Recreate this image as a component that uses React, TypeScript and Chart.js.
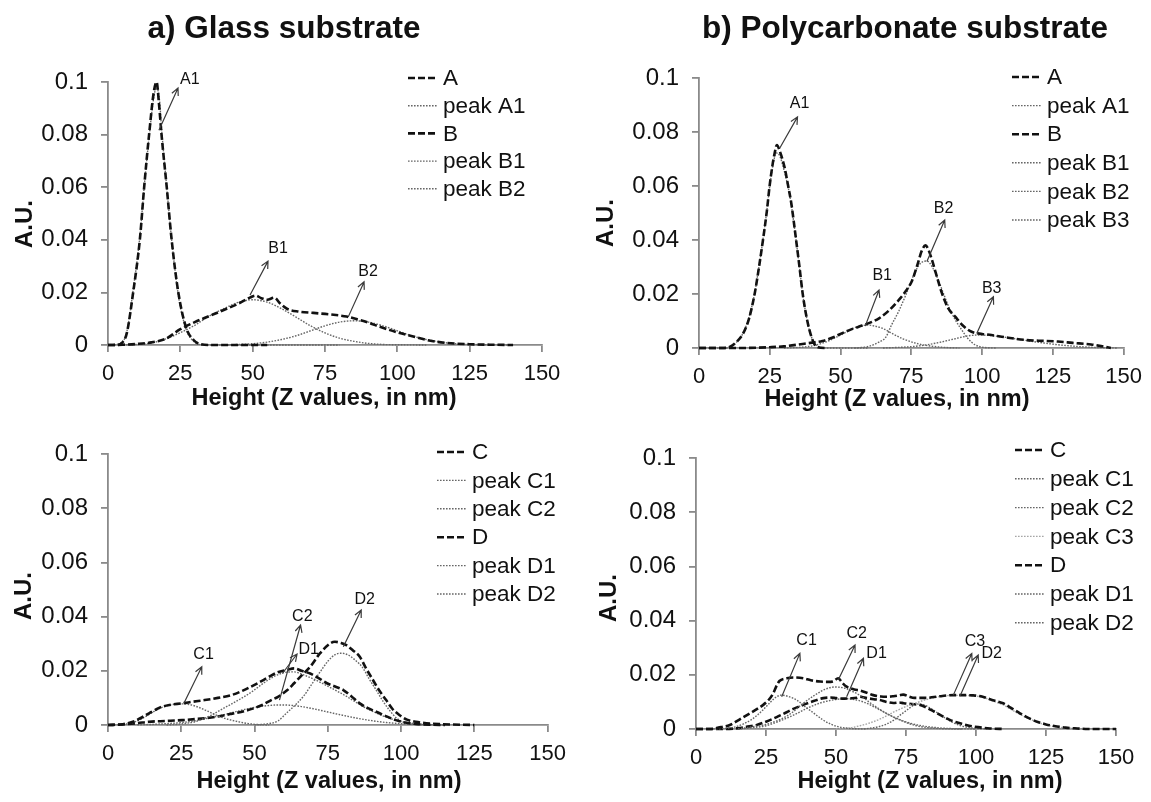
import React, { useEffect, useRef } from "react";
import { Chart, registerables } from "chart.js";

Chart.register(...registerables);

const FONT_FAMILY = "'Liberation Sans', Arial, Helvetica, sans-serif";
Chart.defaults.font.family = FONT_FAMILY;
Chart.defaults.color = "#111";

type Pt = [number, number];

// Tick labels shared by all four panels
const xTickLabels = ["0", "25", "50", "75", "100", "125", "150"];
const yTickLabels = ["0", "0.02", "0.04", "0.06", "0.08", "0.1"];

// ---------- a) Glass substrate, samples A and B ----------
const glassA: Pt[] = [
  [0, 0], [3, 0], [5, 0.001], [6.5, 0.0045], [8.7, 0.02], [11, 0.04], [12.5, 0.06], [14.2, 0.08],
  [15.8, 0.096], [16.8, 0.1], [17.6, 0.092], [18.5, 0.08], [20.3, 0.06], [22, 0.04], [24.3, 0.02],
  [27, 0.0066], [29.5, 0.002], [32, 0.0003], [36, 0], [45, 0], [55, 0],
];
const glassA1: Pt[] = [
  [0, 0], [4, 0.0005], [6.5, 0.005], [8.7, 0.021], [11, 0.041], [12.5, 0.06], [14.2, 0.079],
  [15.8, 0.094], [16.8, 0.098], [17.8, 0.093], [18.6, 0.081], [20.3, 0.06], [22, 0.04], [24.3, 0.019],
  [27, 0.006], [29.5, 0.0015], [33, 0], [45, 0], [60, 0], [80, 0],
];
const glassB: Pt[] = [
  [0, 0], [5, 0.0001], [10, 0.0004], [15, 0.001], [20, 0.0024], [25, 0.006], [30, 0.0087], [35, 0.011],
  [40, 0.0133], [45, 0.0157], [49, 0.018], [51, 0.0188], [53, 0.0178], [55, 0.0172], [57.5, 0.018],
  [59.5, 0.0158], [62, 0.0137], [66, 0.0127], [71, 0.0122], [77, 0.0116], [82.5, 0.0108], [87, 0.0095],
  [90, 0.0085], [94, 0.0069], [100, 0.0048], [105.5, 0.0032], [111, 0.0017], [117, 0.0008],
  [125, 0.0003], [133, 0.0001], [140, 0],
];
const glassB1: Pt[] = [
  [0, 0], [10, 0.0002], [15, 0.0008], [20, 0.0023], [25, 0.0047], [30, 0.0075], [35, 0.011],
  [40, 0.0138], [45, 0.0162], [50, 0.0172], [55, 0.0163], [60, 0.0138], [65, 0.0106], [70, 0.0073],
  [75, 0.0046], [80, 0.0026], [85, 0.0014], [90, 0.0006], [95, 0.0002], [100, 0.0001], [110, 0],
];
const glassB2: Pt[] = [
  [40, 0], [50, 0.0005], [55, 0.0011], [60, 0.0021], [65, 0.0035], [70, 0.0054], [75, 0.0073],
  [80, 0.0087], [85, 0.0092], [90, 0.0087], [95, 0.0073], [100, 0.0054], [105, 0.0035], [110, 0.0021],
  [115, 0.0011], [120, 0.0005], [130, 0.0001], [140, 0],
];

// ---------- b) Polycarbonate substrate, samples A and B ----------
const polyA: Pt[] = [
  [0, 0], [8, 0], [11, 0.0005], [13.5, 0.0025], [15.6, 0.0054], [17.7, 0.011], [19.7, 0.0203],
  [21.2, 0.03], [22.6, 0.04], [24, 0.051], [24.9, 0.0597], [26, 0.068], [26.7, 0.072], [27.5, 0.0752],
  [28.5, 0.073], [30.2, 0.067], [31.5, 0.06], [32.6, 0.0536], [34.3, 0.04], [35.5, 0.03], [36.6, 0.0203],
  [37.8, 0.0125], [39, 0.0067], [40.5, 0.002], [42, 0.0003], [45, 0],
];
const polyA1: Pt[] = [
  [0, 0], [10, 0], [12, 0.001], [14, 0.003], [15.6, 0.0056], [17.7, 0.0115], [19.7, 0.0205],
  [21.2, 0.0302], [22.6, 0.0402], [24, 0.0512], [25, 0.06], [26, 0.067], [27.3, 0.0722], [28.5, 0.0712],
  [30, 0.066], [31.5, 0.0595], [32.6, 0.053], [34.3, 0.0398], [35.5, 0.0298], [36.6, 0.0202],
  [37.8, 0.0124], [39, 0.0066], [40.5, 0.0022], [42.5, 0.0004], [46, 0], [60, 0],
];
const polyB: Pt[] = [
  [0, 0], [15, 0], [25, 0.0003], [30, 0.0006], [36.6, 0.0015], [40, 0.002], [43.6, 0.0026], [47, 0.0038],
  [50.6, 0.0055], [54, 0.007], [57.6, 0.0083], [60, 0.0092], [63.6, 0.011], [67, 0.0138], [70.6, 0.0178],
  [73, 0.021], [75.3, 0.025], [77.2, 0.031], [78.8, 0.0363], [80, 0.038], [81, 0.0365], [82.3, 0.0326],
  [84, 0.0265], [85.8, 0.0203], [88, 0.0148], [90.5, 0.0116], [93, 0.0085], [96.3, 0.006], [100, 0.0052],
  [103.3, 0.0048], [108, 0.004], [115, 0.003], [120, 0.0027], [126.8, 0.0024], [132, 0.0019],
  [138.5, 0.0013], [142, 0.0007], [145.5, 0],
];
const polyB1: Pt[] = [
  [30, 0], [35, 0.0002], [40, 0.0008], [45, 0.0023], [50, 0.0048], [55, 0.0075], [59.5, 0.0085],
  [61.2, 0.0083], [65, 0.0072], [68, 0.0055], [72, 0.0034], [77.6, 0.0015], [82, 0.0007], [87, 0.0002],
  [92, 0],
];
const polyB2: Pt[] = [
  [55, 0], [60, 0.0006], [63.6, 0.0022], [66, 0.004], [68, 0.0085], [70.5, 0.0135], [73, 0.0195],
  [76.5, 0.0285], [78.5, 0.0316], [80.5, 0.0322], [82.5, 0.0298], [84.6, 0.025], [86.5, 0.0198],
  [88.2, 0.0153], [90.5, 0.0105], [92.8, 0.0067], [95, 0.0035], [97.5, 0.0012], [100, 0.0003], [105, 0],
];
const polyB3: Pt[] = [
  [65, 0], [75, 0.0005], [80, 0.0011], [85, 0.0021], [90, 0.0033], [95, 0.0045], [98.7, 0.0048],
  [103, 0.0046], [108, 0.004], [115, 0.0029], [120, 0.0021], [126, 0.0013], [132, 0.0007], [140, 0.0002],
  [148, 0],
];

// ---------- glass substrate, samples C and D ----------
const glassC: Pt[] = [
  [0, 0], [5, 0.0003], [8.5, 0.0012], [11, 0.0025], [14, 0.0043], [16.5, 0.0058], [18.6, 0.0068],
  [21, 0.0074], [25.3, 0.008], [29, 0.0086], [33, 0.0092], [37.5, 0.01], [42, 0.011], [46, 0.0127],
  [51, 0.0154], [54.5, 0.0175], [57.8, 0.0194], [61, 0.0203], [63.5, 0.0209], [66, 0.02], [69, 0.019],
  [72, 0.0172], [74.7, 0.0154], [77.5, 0.0142], [80.3, 0.0129], [83, 0.0106], [85.9, 0.008],
  [88.5, 0.0063], [91.5, 0.0049], [95, 0.0032], [98.2, 0.0018], [101.5, 0.0009], [105, 0.0004],
  [110, 0.0001], [115, 0],
];
const glassC1: Pt[] = [
  [0, 0], [5, 0.0002], [9, 0.0011], [12, 0.0026], [14.5, 0.0042], [17, 0.0058], [20, 0.0071],
  [23, 0.0077], [25.5, 0.0078], [28, 0.0075], [31, 0.0065], [34, 0.0051], [36.6, 0.0038], [40, 0.0024],
  [44.5, 0.0012], [48, 0.0005], [52, 0.0001], [55, 0],
];
const glassC2: Pt[] = [
  [20, 0], [25, 0.0004], [30, 0.0013], [35, 0.0035], [40, 0.0065], [45, 0.0095], [49, 0.0122],
  [53, 0.0154], [57, 0.0181], [61, 0.0195], [63.5, 0.0196], [66, 0.0188], [69, 0.0175], [72, 0.016],
  [75, 0.0143], [78, 0.0126], [81, 0.0108], [84, 0.0088], [87, 0.0068], [90, 0.0052], [93, 0.0037],
  [96, 0.0025], [100, 0.0013], [105, 0.0005], [110, 0.0001], [115, 0],
];
const glassD: Pt[] = [
  [0, 0], [5, 0.0002], [10, 0.0007], [14, 0.0012], [20, 0.0015], [25.3, 0.0018], [30, 0.0022],
  [36.6, 0.003], [42, 0.0041], [47.8, 0.0055], [52, 0.0071], [55.7, 0.0092], [58, 0.0104],
  [61.2, 0.0129], [63.5, 0.0154], [66, 0.0182], [69, 0.0215], [72.3, 0.0264], [75.8, 0.0301],
  [77.4, 0.0307], [79.5, 0.0303], [81.3, 0.0295], [83.5, 0.0276], [85.9, 0.0252], [88, 0.021],
  [90.4, 0.0166], [92.5, 0.0128], [94.9, 0.0092], [97, 0.006], [99.4, 0.0037], [102, 0.002],
  [105, 0.0012], [110, 0.0005], [114, 0.0003], [120, 0.0001], [125, 0],
];
const glassD1: Pt[] = [
  [10, 0.0001], [15, 0.0002], [20, 0.0005], [25, 0.0009], [30, 0.0016], [35, 0.0027], [40, 0.0039],
  [45, 0.0053], [50, 0.0065], [55, 0.0072], [58, 0.0074], [62, 0.0073], [66, 0.0068], [70, 0.006],
  [75, 0.0048], [80, 0.0036], [85, 0.0025], [90, 0.0016], [95, 0.0009], [100, 0.0005], [105, 0.0002],
  [110, 0.0001], [115, 0],
];
const glassD2: Pt[] = [
  [50, 0], [54, 0.0004], [58, 0.0015], [61, 0.0045], [64.5, 0.008], [67, 0.011], [69, 0.0142],
  [72, 0.019], [75, 0.0235], [77.5, 0.026], [79.7, 0.0265], [82, 0.0258], [84.5, 0.0238], [87, 0.021],
  [89, 0.0172], [91.5, 0.0129], [94, 0.0085], [96, 0.0055], [98.5, 0.0025], [100.5, 0.0012],
  [104, 0.0003], [110, 0],
];

// ---------- polycarbonate substrate, samples C and D ----------
const polyC: Pt[] = [
  [0, 0], [5, 0], [8, 0.0005], [12.1, 0.0015], [15.5, 0.0035], [19.3, 0.0058], [22, 0.0075],
  [24, 0.0089], [26, 0.0108], [27.6, 0.0132], [28.8, 0.016], [29.8, 0.0177], [32.4, 0.0187],
  [35, 0.019], [38.3, 0.0187], [41, 0.018], [44.3, 0.0175], [47, 0.0174], [49, 0.0176], [50.8, 0.0187],
  [52.3, 0.017], [53.8, 0.0156], [56.5, 0.0146], [58.6, 0.0142], [61, 0.0134], [63.3, 0.0125],
  [66, 0.012], [68.1, 0.0119], [70.5, 0.0121], [72.5, 0.0124], [74, 0.0127], [76, 0.012], [78, 0.0115],
  [80, 0.0115], [82.4, 0.0115], [85, 0.0118], [88, 0.0122], [91.9, 0.0125], [95, 0.0125], [99, 0.0124],
  [102.4, 0.0119], [105, 0.011], [107.5, 0.0102], [109.7, 0.0095], [112.5, 0.0078], [115.7, 0.0058],
  [118.5, 0.0042], [121.8, 0.0027], [125, 0.0017], [127.9, 0.0011], [132, 0.0005], [136.2, 0.0002],
  [140, 0], [150, 0],
];
const polyC1: Pt[] = [
  [5, 0], [10, 0.0002], [14, 0.0008], [17, 0.0019], [20, 0.0036], [22, 0.0052], [24, 0.0071],
  [26.4, 0.0097], [28.5, 0.0117], [30.6, 0.0125], [33, 0.012], [36.4, 0.0104], [39, 0.0082],
  [42.4, 0.0056], [45, 0.0036], [48.3, 0.0017], [51, 0.0008], [55, 0.0002], [60, 0],
];
const polyC2: Pt[] = [
  [15, 0], [20, 0.0008], [25, 0.0017], [30, 0.0035], [34, 0.0058], [38.3, 0.0095], [42, 0.0122],
  [46, 0.0146], [49.5, 0.0155], [53, 0.0151], [56, 0.0138], [58.6, 0.0124], [62, 0.0098], [65.7, 0.0072],
  [69, 0.0052], [72.9, 0.0033], [77.6, 0.0015], [82, 0.0006], [88, 0.0001], [95, 0],
];
const polyC3: Pt[] = [
  [50, 0], [55, 0.0004], [58.6, 0.0012], [62, 0.0022], [66, 0.0038], [70.5, 0.0062], [75, 0.0083],
  [78.8, 0.0097], [82.4, 0.0109], [86, 0.0118], [91.9, 0.0124], [95, 0.0124], [98, 0.0123],
  [102.4, 0.0117], [105, 0.0108], [107.5, 0.0098], [110, 0.0088], [112, 0.0075], [115, 0.0058],
  [118, 0.0042], [120.5, 0.0031], [124, 0.0018], [127, 0.0011], [130, 0.0006], [135, 0.0002], [140, 0],
];
const polyD: Pt[] = [
  [0, 0], [10, 0], [15, 0.0003], [18, 0.0008], [21.7, 0.0015], [25, 0.0027], [28.8, 0.0044], [32, 0.006],
  [35, 0.0075], [38.3, 0.0089], [42, 0.0103], [45.5, 0.0114], [48, 0.0116], [50.2, 0.0114], [53, 0.0112],
  [55, 0.0113], [57.4, 0.0115], [58.6, 0.0119], [61, 0.0114], [63.5, 0.011], [65.7, 0.0107], [68, 0.01],
  [70.5, 0.0096], [72.5, 0.0098], [74.2, 0.0095], [77, 0.0092], [80, 0.0089], [82.5, 0.0078],
  [85, 0.0064], [88.3, 0.0046], [91, 0.0032], [94.3, 0.0021], [97.5, 0.0012], [101.4, 0.0006],
  [105, 0.0002], [110, 0],
];
const polyD1: Pt[] = [
  [15, 0], [20, 0.0005], [25, 0.0012], [30, 0.003], [35, 0.0052], [40, 0.0078], [45, 0.0098],
  [50, 0.0109], [53, 0.0112], [56, 0.011], [60, 0.0099], [65, 0.0074], [70, 0.0047], [75, 0.0026],
  [80, 0.0013], [85, 0.0006], [90, 0.0002], [95, 0.0001], [100, 0],
];
const polyD2: Pt[] = [
  [60, 0], [65, 0.0008], [68, 0.0018], [70.5, 0.0032], [73, 0.0052], [75.5, 0.0071], [78.8, 0.0092],
  [81, 0.009], [83, 0.0081], [85, 0.0068], [88.3, 0.0045], [91, 0.0028], [94, 0.0014], [97, 0.0006],
  [100, 0.0002], [104, 0],
];

// ---------- drawing styles ----------
type Kind = "total" | "peak" | "peakLight";
const LINE_STYLES: Record<Kind, { color: string; width: number; dash: number[] }> = {
  total: { color: "#111111", width: 2.6, dash: [7, 3] },
  peak: { color: "#666666", width: 1.4, dash: [1.6, 1.4] },
  peakLight: { color: "#a6a6a6", width: 1.4, dash: [1.6, 1.4] },
};
const AXIS_COLOR = "#8a8a8a";

interface Series { label: string; points: Pt[]; kind: Kind }
interface Note { text: string; from: Pt; to: Pt; at: Pt }
interface Panel {
  box: { left: number; top: number; width: number; height: number };
  area: { left: number; top: number; right: number; bottom: number };
  title?: { text: string; x: number; y: number };
  yTitle: { x: number; y: number };
  xTitle: { x: number; y: number };
  legend: { lineX: number; lineW: number; textX: number; firstY: number; rowH: number };
  series: Series[];
  notes: Note[];
}

const PANELS: Panel[] = [
  {
    box: { left: 0, top: 0, width: 575, height: 425 },
    area: { left: 108, top: 82, right: 542, bottom: 345 },
    title: { text: "a) Glass substrate", x: 284, y: 29 },
    yTitle: { x: 25, y: 224 },
    xTitle: { x: 324, y: 399 },
    legend: { lineX: 408, lineW: 29, textX: 443, firstY: 78, rowH: 27.7 },
    series: [
      { label: "A", points: glassA, kind: "total" },
      { label: "peak A1", points: glassA1, kind: "peak" },
      { label: "B", points: glassB, kind: "total" },
      { label: "peak B1", points: glassB1, kind: "peak" },
      { label: "peak B2", points: glassB2, kind: "peak" },
    ],
    notes: [
      { text: "A1", from: [17.6, 0.0817], to: [24.2, 0.0977], at: [28.3, 0.1008] },
      { text: "B1", from: [49.1, 0.019], to: [55.3, 0.0319], at: [58.8, 0.0365] },
      { text: "B2", from: [83, 0.0106], to: [88.5, 0.024], at: [89.9, 0.0278] },
    ],
  },
  {
    box: { left: 580, top: 0, width: 571, height: 425 },
    area: { left: 119, top: 78, right: 546, bottom: 348 },
    title: { text: "b) Polycarbonate substrate", x: 325, y: 29 },
    yTitle: { x: 26, y: 223 },
    xTitle: { x: 317, y: 400 },
    legend: { lineX: 432, lineW: 30, textX: 467, firstY: 77, rowH: 28.6 },
    series: [
      { label: "A", points: polyA, kind: "total" },
      { label: "peak A1", points: polyA1, kind: "peak" },
      { label: "B", points: polyB, kind: "total" },
      { label: "peak B1", points: polyB1, kind: "peak" },
      { label: "peak B2", points: polyB2, kind: "peak" },
      { label: "peak B3", points: polyB3, kind: "peak" },
    ],
    notes: [
      { text: "A1", from: [28.5, 0.074], to: [34.8, 0.0856], at: [35.5, 0.0907] },
      { text: "B1", from: [58.7, 0.0081], to: [63.6, 0.0215], at: [64.7, 0.0267] },
      { text: "B2", from: [80.5, 0.032], to: [86.8, 0.0474], at: [86.4, 0.0517] },
      { text: "B3", from: [98.1, 0.0054], to: [104, 0.019], at: [103.4, 0.0221] },
    ],
  },
  {
    box: { left: 0, top: 425, width: 575, height: 377 },
    area: { left: 108, top: 29, right: 554, bottom: 300 },
    yTitle: { x: 24, y: 171 },
    xTitle: { x: 329, y: 357 },
    legend: { lineX: 437, lineW: 30, textX: 472, firstY: 27, rowH: 28.4 },
    series: [
      { label: "C", points: glassC, kind: "total" },
      { label: "peak C1", points: glassC1, kind: "peak" },
      { label: "peak C2", points: glassC2, kind: "peak" },
      { label: "D", points: glassD, kind: "total" },
      { label: "peak D1", points: glassD1, kind: "peak" },
      { label: "peak D2", points: glassD2, kind: "peak" },
    ],
    notes: [
      { text: "C1", from: [25.9, 0.008], to: [32, 0.0215], at: [32.6, 0.0258] },
      { text: "C2", from: [58.5, 0.0092], to: [65.7, 0.0369], at: [66.3, 0.04] },
      { text: "D1", from: [59.5, 0.019], to: [64.5, 0.0262], at: [68.5, 0.0279] },
      { text: "D2", from: [80.3, 0.0289], to: [86.4, 0.0424], at: [87.6, 0.0461] },
    ],
  },
  {
    box: { left: 580, top: 425, width: 571, height: 377 },
    area: { left: 116, top: 33, right: 536, bottom: 304 },
    yTitle: { x: 29, y: 173 },
    xTitle: { x: 350, y: 357 },
    legend: { lineX: 435, lineW: 30, textX: 470, firstY: 25, rowH: 28.8 },
    series: [
      { label: "C", points: polyC, kind: "total" },
      { label: "peak C1", points: polyC1, kind: "peak" },
      { label: "peak C2", points: polyC2, kind: "peak" },
      { label: "peak C3", points: polyC3, kind: "peakLight" },
      { label: "D", points: polyD, kind: "total" },
      { label: "peak D1", points: polyD1, kind: "peak" },
      { label: "peak D2", points: polyD2, kind: "peak" },
    ],
    notes: [
      { text: "C1", from: [30.6, 0.0119], to: [37.1, 0.0279], at: [39.5, 0.0328] },
      { text: "C2", from: [50.8, 0.0181], to: [56.8, 0.031], at: [57.4, 0.0353] },
      { text: "D1", from: [53.8, 0.0119], to: [59.8, 0.0261], at: [64.5, 0.0279] },
      { text: "C3", from: [91.9, 0.0125], to: [98.5, 0.0279], at: [99.6, 0.0322] },
      { text: "D2", from: [94.3, 0.0122], to: [100.8, 0.0273], at: [105.6, 0.0279] },
    ],
  },
];

function makeDecorPlugin(panel: Panel) {
  return {
    id: "panelDecor",
    afterDraw(chart: Chart) {
      const ctx = chart.ctx;
      const xs = chart.scales.x;
      const ys = chart.scales.y;
      ctx.save();
      ctx.fillStyle = "#111";
      ctx.textBaseline = "middle";

      if (panel.title) {
        ctx.font = `bold 31.5px ${FONT_FAMILY}`;
        ctx.textAlign = "center";
        ctx.fillText(panel.title.text, panel.title.x, panel.title.y);
      }

      // axis titles
      ctx.font = `bold 24px ${FONT_FAMILY}`;
      ctx.textAlign = "center";
      ctx.save();
      ctx.translate(panel.yTitle.x, panel.yTitle.y);
      ctx.rotate(-Math.PI / 2);
      ctx.fillText("A.U.", 0, 0);
      ctx.restore();
      ctx.font = `bold 23.5px ${FONT_FAMILY}`;
      ctx.fillText("Height (Z values, in nm)", panel.xTitle.x, panel.xTitle.y);

      // legend, one row per dataset
      const lg = panel.legend;
      chart.data.datasets.forEach((ds: any, i: number) => {
        const y = lg.firstY + i * lg.rowH;
        ctx.save();
        ctx.strokeStyle = ds.borderColor;
        ctx.lineWidth = ds.borderWidth;
        ctx.setLineDash(ds.borderDash || []);
        ctx.beginPath();
        ctx.moveTo(lg.lineX, y);
        ctx.lineTo(lg.lineX + lg.lineW, y);
        ctx.stroke();
        ctx.restore();
        ctx.font = `22.5px ${FONT_FAMILY}`;
        ctx.textAlign = "left";
        ctx.fillStyle = "#111";
        ctx.fillText(ds.label, lg.textX, y + 1);
      });

      // peak annotations with arrows
      panel.notes.forEach((n) => {
        const x0 = xs.getPixelForValue(n.from[0]);
        const y0 = ys.getPixelForValue(n.from[1]);
        const x1 = xs.getPixelForValue(n.to[0]);
        const y1 = ys.getPixelForValue(n.to[1]);
        ctx.save();
        ctx.strokeStyle = "#3a3a3a";
        ctx.lineWidth = 1.2;
        ctx.setLineDash([]);
        ctx.beginPath();
        ctx.moveTo(x0, y0);
        ctx.lineTo(x1, y1);
        const ang = Math.atan2(y1 - y0, x1 - x0);
        const head = 8;
        const spread = 0.45;
        ctx.moveTo(x1 - head * Math.cos(ang - spread), y1 - head * Math.sin(ang - spread));
        ctx.lineTo(x1, y1);
        ctx.lineTo(x1 - head * Math.cos(ang + spread), y1 - head * Math.sin(ang + spread));
        ctx.stroke();
        ctx.restore();
        ctx.font = `16px ${FONT_FAMILY}`;
        ctx.textAlign = "center";
        ctx.fillStyle = "#111";
        ctx.fillText(n.text, xs.getPixelForValue(n.at[0]), ys.getPixelForValue(n.at[1]));
      });
      ctx.restore();
    },
  };
}

function buildConfig(panel: Panel): any {
  const { box, area } = panel;
  return {
    type: "line",
    data: {
      datasets: panel.series.map((s) => {
        const st = LINE_STYLES[s.kind];
        return {
          label: s.label,
          data: s.points.map(([x, y]) => ({ x, y })),
          borderColor: st.color,
          borderWidth: st.width,
          borderDash: st.dash,
          pointRadius: 0,
          fill: false,
          cubicInterpolationMode: "monotone",
          clip: 6,
        };
      }),
    },
    options: {
      animation: false,
      responsive: false,
      devicePixelRatio: 1,
      events: [],
      layout: { padding: { left: 0, top: area.top, right: box.width - area.right, bottom: 0 } },
      plugins: { legend: { display: false }, tooltip: { enabled: false }, title: { display: false } },
      scales: {
        x: {
          type: "linear",
          min: 0,
          max: 150,
          ticks: {
            stepSize: 25,
            autoSkip: false,
            maxRotation: 0,
            padding: 9,
            color: "#111",
            font: { size: 22 },
            callback: (_v: number, i: number) => xTickLabels[i],
          },
          grid: { drawOnChartArea: false, drawTicks: true, tickLength: 7, color: AXIS_COLOR, lineWidth: 1.8 },
          border: { display: true, color: AXIS_COLOR, width: 1.8 },
          afterFit: (s: any) => {
            s.height = box.height - area.bottom;
          },
        },
        y: {
          type: "linear",
          min: 0,
          max: 0.1,
          ticks: {
            stepSize: 0.02,
            autoSkip: false,
            padding: 13,
            color: "#111",
            font: { size: 24 },
            callback: (_v: number, i: number) => yTickLabels[i],
          },
          grid: { drawOnChartArea: false, drawTicks: true, tickLength: 7, color: AXIS_COLOR, lineWidth: 1.8 },
          border: { display: true, color: AXIS_COLOR, width: 1.8 },
          afterFit: (s: any) => {
            s.width = area.left;
          },
        },
      },
    },
    plugins: [makeDecorPlugin(panel)],
  };
}

function PanelChart({ panel }: { panel: Panel }) {
  const ref = useRef<HTMLCanvasElement | null>(null);
  useEffect(() => {
    if (!ref.current) return;
    const chart = new Chart(ref.current, buildConfig(panel));
    return () => chart.destroy();
  }, [panel]);
  const { box } = panel;
  return (
    <canvas
      ref={ref}
      width={box.width}
      height={box.height}
      style={{ position: "absolute", left: box.left, top: box.top, width: box.width, height: box.height }}
    />
  );
}

export default function App() {
  return (
    <div
      style={{
        position: "absolute",
        left: 0,
        top: 0,
        width: 1151,
        height: 802,
        background: "#ffffff",
        overflow: "hidden",
      }}
    >
      {PANELS.map((p, i) => (
        <PanelChart key={i} panel={p} />
      ))}
    </div>
  );
}
